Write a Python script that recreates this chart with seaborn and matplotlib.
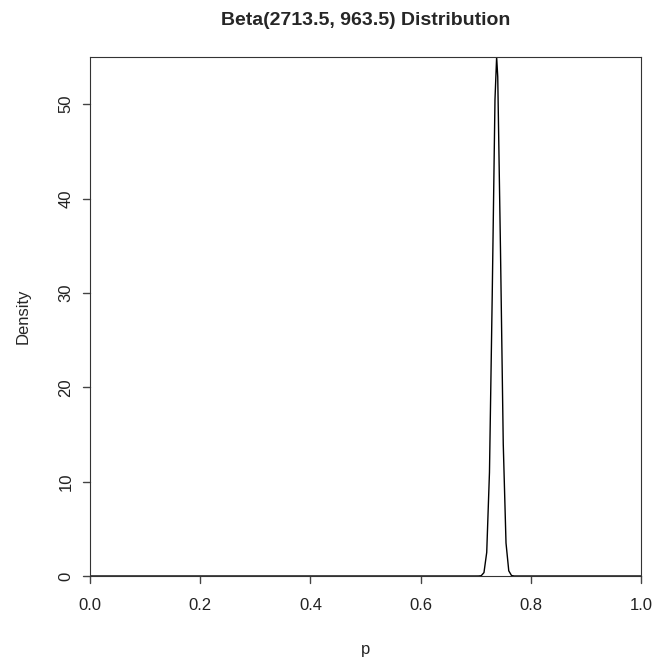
import matplotlib
matplotlib.use("Agg")
import matplotlib.pyplot as plt
import matplotlib.transforms as mtransforms
import seaborn as sns
import pandas as pd

# Values
p_vals = [0.0, 0.700, 0.705, 0.710, 0.715, 0.720, 0.725, 0.730, 0.735, 0.738,
          0.740, 0.745, 0.750, 0.755, 0.760, 0.765, 0.770, 1.0]
density = [0.0, 0.0, 0.002, 0.03, 0.36, 2.5, 11.0, 29.8, 50.5, 55.0,
           52.9, 34.5, 14.0, 3.5, 0.55, 0.05, 0.0, 0.0]
x_ticks = [0.0, 0.2, 0.4, 0.6, 0.8, 1.0]
x_labels = ["0.0", "0.2", "0.4", "0.6", "0.8", "1.0"]
y_ticks = [0, 10, 20, 30, 40, 50]
y_labels = ["0", "10", "20", "30", "40", "50"]
title = "Beta(2713.5, 963.5) Distribution"

sns.set_style("white")
plt.rcParams['font.family'] = ['Liberation Sans', 'DejaVu Sans']

df = pd.DataFrame({"p": p_vals, "Density": density})

fig = plt.figure(figsize=(6.54, 6.57), dpi=100)
ax = fig.add_axes([90/654, 1-576/657, (641-90)/654, (576-57)/657])
sns.lineplot(data=df, x="p", y="Density", sort=False, color="black", lw=1, ax=ax)
ax.set_xlim(0, 1)
ax.set_ylim(0, 55.0)
ax.set_xticks(x_ticks)
ax.set_xticklabels(x_labels, fontsize=12, color="#222222")
ax.set_yticks(y_ticks)
ax.set_yticklabels(y_labels, fontsize=12, rotation=90, va="center", color="#222222")
ax.tick_params(axis="x", length=0, pad=16)
ax.tick_params(axis="y", length=0, pad=12)

# draw tick marks explicitly (outward, ~7 px)
tx = mtransforms.blended_transform_factory(ax.transData, ax.transAxes)
ty = mtransforms.blended_transform_factory(ax.transAxes, ax.transData)
for xv in x_ticks:
    ax.plot([xv, xv], [0, -7/519], transform=tx, color="#444444", lw=1.0, clip_on=False)
for yv in y_ticks:
    ax.plot([0, -7/551], [yv, yv], transform=ty, color="#444444", lw=1.0, clip_on=False)

for s in ax.spines.values():
    s.set_visible(True)
    s.set_color("#333333")
    s.set_linewidth(0.8)
ax.set_xlabel("p", fontsize=12, labelpad=21)
ax.set_ylabel("Density", fontsize=12, labelpad=20)
ax.set_title(title, fontsize=14, fontweight="bold", pad=23)
fig.savefig("out.png", dpi=100)
